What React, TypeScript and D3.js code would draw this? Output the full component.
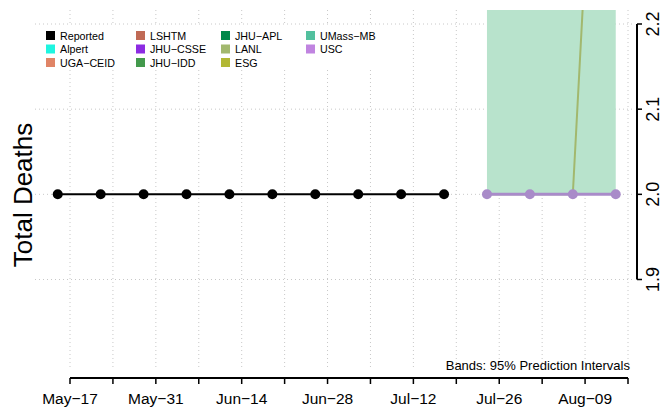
import React from "react";
import * as d3 from "d3";

const reportedDates = ["2020-05-15","2020-05-22","2020-05-29","2020-06-05","2020-06-12","2020-06-19","2020-06-26","2020-07-03","2020-07-10","2020-07-17"];
const reportedValues = [2, 2, 2, 2, 2, 2, 2, 2, 2, 2];

const forecastDates = ["2020-07-24","2020-07-31","2020-08-07","2020-08-14"];
const uscValues = [2, 2, 2, 2];
const lanlValues = [2, 2, 2, 2.95];
const bandLower = [2, 2, 2, 2];
const bandUpper = [2.5, 3, 3.5, 4];

const yTicks = [1.9, 2.0, 2.1, 2.2];
const xTickStart = "2020-05-17";
const xTickEnd = "2020-08-16";
const xLabelFormat = (d: Date) => d3.utcFormat("%b")(d) + "\u2212" + d3.utcFormat("%d")(d);

const legendItems = [
  ["Reported", "#000000"],
  ["Alpert", "#1EF5E0"],
  ["UGA\u2212CEID", "#E08466"],
  ["LSHTM", "#C06A55"],
  ["JHU\u2212CSSE", "#8C2BE2"],
  ["JHU\u2212IDD", "#43994C"],
  ["JHU\u2212APL", "#00884A"],
  ["LANL", "#A2B86E"],
  ["ESG", "#B2B834"],
  ["UMass\u2212MB", "#52C09E"],
  ["USC", "#C084E0"],
];

const FONT = "'Liberation Sans', Arial, Helvetica, sans-serif";

export default function App() {
  const W = 663, H = 414;
  const plot = { left: 35, right: 632, top: 10, bottom: 368 };
  const parse = (s: string) => new Date(s + "T00:00:00Z");
  const x = d3.scaleUtc().domain([parse(xTickStart), parse(xTickEnd)]).range([70, 628]);
  const y = d3.scaleLinear().domain([1.9, 2.2]).range([279.5, 24]);

  const weekTicks = d3.utcSunday.range(parse(xTickStart), d3.utcDay.offset(parse(xTickEnd), 1));
  const labelTicks = weekTicks.filter((_, i) => i % 2 === 0 && i < 13);

  const rep = reportedDates.map((d, i) => ({ d: parse(d), v: reportedValues[i] }));
  const usc = forecastDates.map((d, i) => ({ d: parse(d), v: uscValues[i] }));
  const lanl = forecastDates.map((d, i) => ({ d: parse(d), v: lanlValues[i] }));
  const band = forecastDates.map((d, i) => ({ d: parse(d), lo: bandLower[i], hi: bandUpper[i] }));

  const line = d3.line<{ d: Date; v: number }>().x(p => x(p.d)).y(p => y(p.v));
  const area = d3.area<{ d: Date; lo: number; hi: number }>().x(p => x(p.d)).y0(p => y(p.lo)).y1(p => y(p.hi));

  const legCols = [[0, 1, 2], [3, 4, 5], [6, 7, 8], [9, 10]];
  const colX = [46, 136, 221, 306];
  const rowY = [35.5, 49, 62.5];

  return (
    <svg width={W} height={H} style={{ display: "block", position: "absolute", left: 0, top: 0, background: "#fff" }} fontFamily={FONT}>
      <defs>
        <clipPath id="plotclip">
          <rect x={plot.left} y={plot.top} width={plot.right - plot.left} height={plot.bottom - plot.top} />
        </clipPath>
      </defs>
      <rect x={0} y={0} width={W} height={H} fill="#fff" />
      {weekTicks.map((t, i) => (
        <line key={"vg" + i} x1={x(t)} x2={x(t)} y1={plot.top} y2={plot.bottom} stroke="#c8c8c8" strokeWidth={1} strokeDasharray="1,3" />
      ))}
      {yTicks.map((t, i) => (
        <line key={"hg" + i} x1={plot.left} x2={plot.right} y1={y(t)} y2={y(t)} stroke="#c8c8c8" strokeWidth={1} strokeDasharray="1,3" />
      ))}
      <g clipPath="url(#plotclip)">
        <path d={area(band)!} fill="#B8E3CC" />
        <path d={line(lanl)!} fill="none" stroke="#A2B86E" strokeWidth={2} />
        <path d={line(rep)!} fill="none" stroke="#000" strokeWidth={2} />
        <path d={line(usc)!} fill="none" stroke="#A98BC9" strokeWidth={3} />
        {rep.map((p, i) => (
          <circle key={"r" + i} cx={x(p.d)} cy={y(p.v)} r={5} fill="#000" />
        ))}
        {usc.map((p, i) => (
          <circle key={"u" + i} cx={x(p.d)} cy={y(p.v)} r={5} fill="#A98BC9" />
        ))}
      </g>
      <rect x={38} y={25} width={340} height={44} fill="#fff" />
      {legCols.map((col, ci) =>
        col.map((idx, ri) => (
          <g key={"lg" + idx}>
            <rect x={colX[ci]} y={rowY[ri] - 4.5} width={9} height={9} fill={legendItems[idx][1]} />
            <text x={colX[ci] + 14} y={rowY[ri] + 4} fontSize={10.7} fill="#000">{legendItems[idx][0]}</text>
          </g>
        ))
      )}
      <line x1={x(weekTicks[0])} x2={x(weekTicks[weekTicks.length - 1])} y1={378} y2={378} stroke="#000" strokeWidth={2} />
      {weekTicks.map((t, i) => (
        <line key={"xt" + i} x1={x(t)} x2={x(t)} y1={378} y2={384} stroke="#000" strokeWidth={1.5} />
      ))}
      {labelTicks.map((t, i) => (
        <text key={"xl" + i} x={x(t)} y={404} textAnchor="middle" fontSize={15.5} fill="#000">{xLabelFormat(t)}</text>
      ))}
      <line x1={637} x2={637} y1={y(2.2)} y2={y(1.9)} stroke="#000" strokeWidth={2} />
      {yTicks.map((t, i) => (
        <line key={"yt" + i} x1={637} x2={642} y1={y(t)} y2={y(t)} stroke="#000" strokeWidth={1.5} />
      ))}
      {yTicks.map((t, i) => (
        <text key={"yl" + i} transform={`translate(659,${y(t)}) rotate(-90)`} textAnchor="middle" fontSize={18} fill="#000">{d3.format(".1f")(t)}</text>
      ))}
      <text transform={`translate(32,195) rotate(-90)`} textAnchor="middle" fontSize={26} fill="#000">Total Deaths</text>
      <text x={630} y={370} textAnchor="end" fontSize={13} fill="#000">Bands: 95% Prediction Intervals</text>
    </svg>
  );
}
